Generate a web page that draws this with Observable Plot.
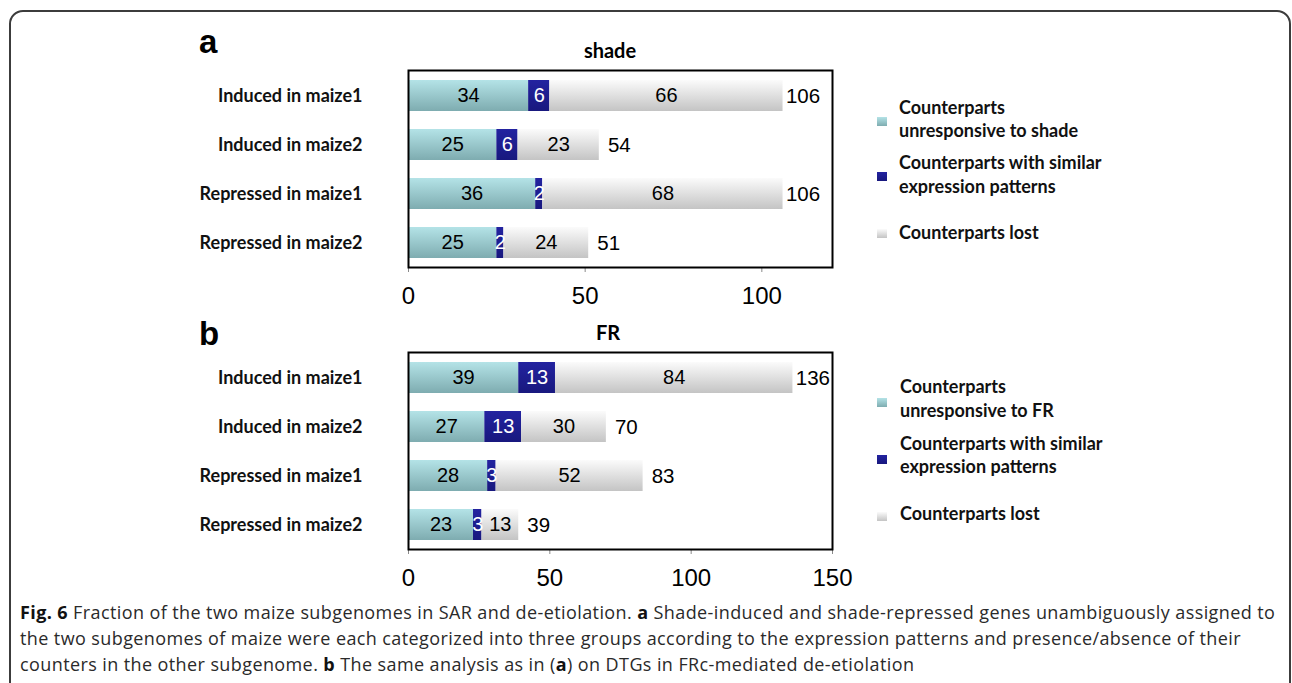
<!DOCTYPE html>
<html>
<head>
<meta charset="utf-8">
<script src="https://cdn.jsdelivr.net/npm/d3@7"></script>
<script src="https://cdn.jsdelivr.net/npm/@observablehq/plot@0.6"></script>
<style>
  body { margin: 0; background: #fff; }
  #page { position: relative; width: 1292px; height: 683px; overflow: hidden; background: #fff; }
  #border { position: absolute; left: 9px; top: 10px; width: 1278px; height: 800px;
            border: 2px solid #3c3c3c; border-radius: 14px; }
  .plot { position: absolute; left: 0; }
  #plotA { top: 30px; }
  #plotB { top: 312px; }
  #overlay { position: absolute; left: 0; top: 0; pointer-events: none; }
  #caption { position: absolute; left: 20px; top: 599px; font-family: "Open Sans", sans-serif;
             font-size: 18px; letter-spacing: 0.4px; line-height: 26px; color: #2a2a2a; white-space: nowrap; }
  #caption b { color: #111; }
  .plot svg [aria-label^="x-axis"] line, .plot svg [aria-label^="x-axis tick"] path { stroke: #8a8a8a; }
</style>
</head>
<body>
<div id="page">
  <div id="border"></div>
  <div id="plotA" class="plot"></div>
  <div id="plotB" class="plot"></div>
  <svg id="overlay" width="1292" height="683">
    <defs>
      <linearGradient id="gTeal" x1="0" y1="0" x2="0" y2="1">
        <stop offset="0" stop-color="#b4e3e7"/>
        <stop offset="1" stop-color="#7eacb0"/>
      </linearGradient>
      <linearGradient id="gNavy" x1="0" y1="0" x2="0" y2="1">
        <stop offset="0" stop-color="#2323a0"/>
        <stop offset="1" stop-color="#18187e"/>
      </linearGradient>
      <linearGradient id="gGray" x1="0" y1="0" x2="0" y2="1">
        <stop offset="0" stop-color="#fbfbfb"/>
        <stop offset="1" stop-color="#c4c4c4"/>
      </linearGradient>
    </defs>
  </svg>
  <div id="caption"></div>
</div>
<script>
// ---------- data ----------
const categories = ["Induced in maize1", "Induced in maize2", "Repressed in maize1", "Repressed in maize2"];
const seriesKeys = ["unresponsive", "similar", "lost"];

const shadeUnresponsive = [34, 25, 36, 25];
const shadeSimilar      = [6, 6, 2, 2];
const shadeLost         = [66, 23, 68, 24];
const shadeTotals       = [106, 54, 106, 51];

const frUnresponsive = [39, 27, 28, 23];
const frSimilar      = [13, 13, 3, 3];
const frLost         = [84, 30, 52, 13];
const frTotals       = [136, 70, 83, 39];

const shadeTicks = [0, 50, 100];
const frTicks    = [0, 50, 100, 150];
const shadeDomain = [0, 120];
const frDomain    = [0, 150];

const panelLetters = ["a", "b"];
const panelTitles  = ["shade", "FR"];

const legendShade = [["Counterparts", "unresponsive to shade"], ["Counterparts with similar", "expression patterns"], ["Counterparts lost"]];
const legendFR    = [["Counterparts", "unresponsive to FR"], ["Counterparts with similar", "expression patterns"], ["Counterparts lost"]];

const captionLines = [
  "<b>Fig. 6</b> Fraction of the two maize subgenomes in SAR and de-etiolation. <b>a</b> Shade-induced and shade-repressed genes unambiguously assigned to",
  "the two subgenomes of maize were each categorized into three groups according to the expression patterns and presence/absence of their",
  "counters in the other subgenome. <b>b</b> The same analysis as in (<b>a</b>) on DTGs in FRc-mediated de-etiolation"
];

// ---------- styles ----------
const barFills   = {unresponsive: "url(#gTeal)", similar: "url(#gNavy)", lost: "url(#gGray)"};
const labelFills = {unresponsive: "#000", similar: "#fff", lost: "#000"};

function makeRows(u, s, l) {
  const vals = {unresponsive: u, similar: s, lost: l};
  return categories.flatMap((c, i) => seriesKeys.map(k => ({cat: c, series: k, value: vals[k][i]})));
}

function panel(rows, totals, domain, ticks) {
  const totalRows = categories.map((c, i) => ({cat: c, total: totals[i]}));
  return Plot.plot({
    width: 860, height: 282,
    marginLeft: 408, marginRight: 28, marginTop: 40, marginBottom: 45,
    style: {fontFamily: "'Liberation Sans', Arial, sans-serif", fontSize: "24px", color: "#000",
            background: "transparent", overflow: "visible"},
    x: {domain, ticks, tickSize: 5, tickPadding: 14, label: null, tickFormat: d => String(d)},
    y: {domain: categories, axis: null, paddingInner: 0.37, paddingOuter: 0.185},
    color: {type: "identity"},
    marks: [
      Plot.barX(rows, Plot.stackX({x: "value", y: "cat", fill: d => barFills[d.series]})),
      Plot.text(rows, Plot.stackX({x: "value", y: "cat", text: d => String(d.value),
        fill: d => labelFills[d.series], fontSize: 20, fontFamily: "'Liberation Sans', Arial, sans-serif"})),
      Plot.text(totalRows, {x: "total", y: "cat", text: d => String(d.total), dx: 20,
        fontSize: 20.5, fill: "#000", fontFamily: "'Liberation Sans', Arial, sans-serif"}),
      Plot.text(categories, {y: d => d, text: d => d, frameAnchor: "left", textAnchor: "end", dx: -46,
        fontFamily: "Lato, sans-serif", fontWeight: "bold", fontSize: 18, fill: "#111"}),
      Plot.frame({stroke: "#000", strokeWidth: 2})
    ]
  });
}

document.getElementById("plotA").append(
  panel(makeRows(shadeUnresponsive, shadeSimilar, shadeLost), shadeTotals, shadeDomain, shadeTicks));
document.getElementById("plotB").append(
  panel(makeRows(frUnresponsive, frSimilar, frLost), frTotals, frDomain, frTicks));

// ---------- overlay: panel letters, titles, legends ----------
const ov = d3.select("#overlay");
const letterPos = [{x: 199, y: 53}, {x: 199, y: 345}];
const titlePos  = [{x: 610, y: 50}, {x: 608, y: 332}];
panelLetters.forEach((t, i) => {
  ov.append("text").attr("x", letterPos[i].x).attr("y", letterPos[i].y)
    .attr("font-family", "'Liberation Sans', Arial, sans-serif").attr("font-weight", "bold")
    .attr("font-size", 33).attr("fill", "#000").text(t);
});
panelTitles.forEach((t, i) => {
  ov.append("text").attr("x", titlePos[i].x).attr("y", titlePos[i].y)
    .attr("text-anchor", "middle").attr("dominant-baseline", "central")
    .attr("font-family", "Lato, sans-serif").attr("font-weight", "bold")
    .attr("font-size", 20).attr("fill", "#000").text(t);
});

function drawLegend(labels, layout) {
  labels.forEach((lines, i) => {
    const L = layout[i];
    ov.append("rect").attr("x", L.sx).attr("y", L.sy).attr("width", 10).attr("height", 9)
      .attr("fill", barFills[seriesKeys[i]]);
    lines.forEach((line, j) => {
      ov.append("text").attr("x", L.tx).attr("y", L.ty[j]).attr("dominant-baseline", "central")
        .attr("font-family", "Lato, sans-serif").attr("font-weight", "bold")
        .attr("font-size", 18).attr("fill", "#111").text(line);
    });
  });
}
drawLegend(legendShade, [
  {sx: 877, sy: 117, tx: 899, ty: [107, 130]},
  {sx: 877, sy: 172, tx: 899, ty: [162, 186]},
  {sx: 877, sy: 229, tx: 899, ty: [232]}
]);
drawLegend(legendFR, [
  {sx: 877, sy: 398, tx: 900, ty: [386, 410]},
  {sx: 877, sy: 455, tx: 900, ty: [443, 466]},
  {sx: 877, sy: 512, tx: 900, ty: [513]}
]);

// ---------- caption ----------
document.getElementById("caption").innerHTML = captionLines.join("<br>");
</script>
</body>
</html>
